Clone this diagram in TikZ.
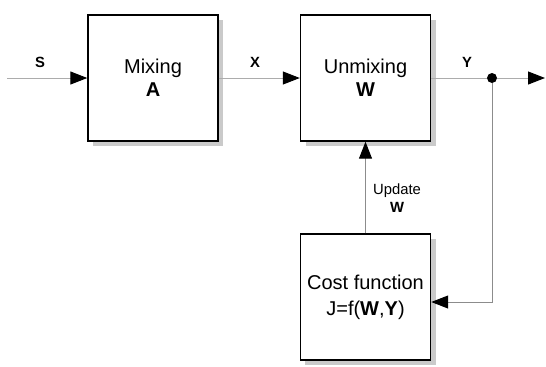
\documentclass[tikz,border=0pt]{standalone}
\usepackage{fontspec}
\setmainfont{Liberation Sans}
\usetikzlibrary{positioning,arrows.meta,shadows}

\begin{document}
\begin{tikzpicture}[
  x=0.5pt,y=-0.5pt,
  block/.style={draw=black,line width=0.7pt,fill=white,minimum width=65pt,
                minimum height=63pt,align=center,font=\fontsize{10}{11.5}\selectfont,
                drop shadow={shadow xshift=2.5pt,shadow yshift=-2.5pt,fill=black!35,opacity=0.6}},
  signal/.style={font=\fontsize{7.4}{8}\selectfont\bfseries},
  wire/.style={draw=gray!65,line width=0.5pt},
  flow/.style={wire,-{Triangle[length=8.5pt,width=6.5pt,black]}},
]
\useasboundingbox (0,0) rectangle (546,366);

% Blocks
\node[block] (mix) at (153,78) {Mixing\\\textbf{A}};
\node[block] (unmix) at (365.5,78) {Unmixing\\\textbf{W}};
\node[block,font=\fontsize{10}{13}\selectfont] (cost) at (365.5,297)
  {Cost function\\J=f(\textbf{W},\textbf{Y})};

% End points and junction
\coordinate (src) at (7,78);
\coordinate (out) at (545,78);
\node[circle,fill=black,inner sep=0pt,minimum size=5pt] (junc) at (492,78) {};

% Signals
\draw[flow] (src) -- (mix.west);
\draw[flow] (mix.east) -- (unmix.west);
\draw[wire] (unmix.east) -- (junc);
\draw[flow] (junc) -- (out);
\draw[flow,draw=gray!90] (junc) |- ([yshift=-2.5pt]cost.east);
\draw[flow,draw=gray!90] (cost.north) -- (unmix.south);

% Labels
\node[signal] (lS) at (40,62) {S};
\node[signal] (lX) at (255,62) {X};
\node[signal] (lY) at (467,62) {Y};
\node[align=center,font=\fontsize{7.4}{9}\selectfont] (lupd) at (397,198)
  {Update\\\textbf{W}};

\end{tikzpicture}
\end{document}
